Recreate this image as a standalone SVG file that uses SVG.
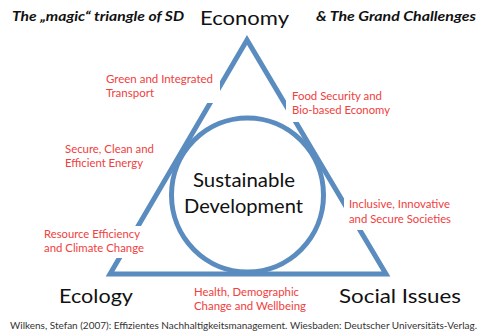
<svg xmlns="http://www.w3.org/2000/svg" width="482" height="333" viewBox="0 0 482 333">
  <style>
    .frame { fill: none; stroke: #5b8cbf; stroke-width: 5; stroke-linejoin: miter; }
    .pillar { font-family: Lato, "Liberation Sans", sans-serif; font-size: 20px; fill: #111; }
    .core { font-family: Lato, "Liberation Sans", sans-serif; font-size: 19px; fill: #111; text-anchor: middle; }
    .head { font-family: Lato, "Liberation Sans", sans-serif; font-size: 14px; font-weight: bold; font-style: italic; fill: #111; }
    .challenge { font-family: Lato, "Liberation Sans", sans-serif; font-size: 11px; fill: #f04040; }
    .box { fill: #fff; }
    .cite { font-family: Lato, "Liberation Sans", sans-serif; font-size: 9.5px; fill: #333; }
  </style>

  <rect width="482" height="333" fill="#fff"/>

  <!-- headings -->
  <text class="head" x="12" y="21" textLength="172" lengthAdjust="spacingAndGlyphs">The „magic“ triangle of SD</text>
  <text class="head" x="316" y="21" textLength="160" lengthAdjust="spacingAndGlyphs">&amp; The Grand Challenges</text>

  <!-- connectors: triangle frame and central circle -->
  <g id="connectors">
    <polygon class="frame" points="247,40 110,274 386,274"/>
    <ellipse class="frame" cx="247.5" cy="195" rx="76" ry="77"/>
  </g>

  <!-- pillars -->
  <g id="economy">
    <text class="pillar" x="200" y="25" textLength="89" lengthAdjust="spacingAndGlyphs">Economy</text>
  </g>
  <g id="ecology">
    <text class="pillar" x="59" y="303" textLength="74" lengthAdjust="spacingAndGlyphs">Ecology</text>
  </g>
  <g id="social-issues">
    <text class="pillar" x="339" y="303" textLength="122" lengthAdjust="spacingAndGlyphs">Social Issues</text>
  </g>

  <g id="sustainable-development">
    <text class="core" x="244" y="187" textLength="102" lengthAdjust="spacingAndGlyphs">Sustainable</text>
    <text class="core" x="243.5" y="213" textLength="119" lengthAdjust="spacingAndGlyphs">Development</text>
  </g>

  <!-- grand challenges -->
  <g id="transport">
    <rect class="box" x="103" y="70" width="117" height="33"/>
    <text class="challenge" x="106" y="83" textLength="107" lengthAdjust="spacingAndGlyphs">Green and Integrated</text>
    <text class="challenge" x="106" y="97" textLength="48" lengthAdjust="spacingAndGlyphs">Transport</text>
  </g>
  <g id="food">
    <rect class="box" x="286" y="88" width="110" height="34"/>
    <text class="challenge" x="292" y="99.5" textLength="90" lengthAdjust="spacingAndGlyphs">Food Security and</text>
    <text class="challenge" x="292" y="114" textLength="98" lengthAdjust="spacingAndGlyphs">Bio-based Economy</text>
  </g>
  <g id="energy">
    <text class="challenge" x="65" y="153" textLength="89" lengthAdjust="spacingAndGlyphs">Secure, Clean and</text>
    <text class="challenge" x="65" y="166.5" textLength="78" lengthAdjust="spacingAndGlyphs">Efficient Energy</text>
  </g>
  <g id="societies">
    <rect class="box" x="344" y="196" width="112" height="34"/>
    <text class="challenge" x="349" y="208" textLength="101" lengthAdjust="spacingAndGlyphs">Inclusive, Innovative</text>
    <text class="challenge" x="349" y="222.5" textLength="102" lengthAdjust="spacingAndGlyphs">and Secure Societies</text>
  </g>
  <g id="resources">
    <rect class="box" x="40" y="226" width="106" height="32"/>
    <text class="challenge" x="44" y="237.5" textLength="96" lengthAdjust="spacingAndGlyphs">Resource Efficiency</text>
    <text class="challenge" x="44" y="251.5" textLength="100" lengthAdjust="spacingAndGlyphs">and Climate Change</text>
  </g>
  <g id="health">
    <text class="challenge" x="194" y="296" textLength="105" lengthAdjust="spacingAndGlyphs">Health, Demographic</text>
    <text class="challenge" x="194" y="310" textLength="112" lengthAdjust="spacingAndGlyphs">Change and Wellbeing</text>
  </g>

  <text class="cite" x="10" y="329" textLength="467" lengthAdjust="spacingAndGlyphs">Wilkens, Stefan (2007): Effizientes Nachhaltigkeitsmanagement. Wiesbaden: Deutscher Universitäts-Verlag.</text>
</svg>
